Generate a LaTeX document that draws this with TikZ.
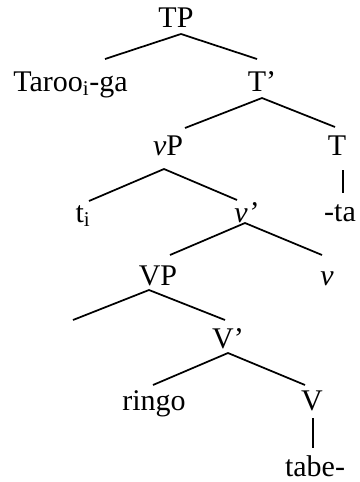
\documentclass[tikz,border=0pt]{standalone}
\usepackage{fontspec}
\setmainfont{Liberation Serif}
\begin{document}
\begin{tikzpicture}[x=0.75pt,y=-0.75pt,
  lab/.style={inner sep=0pt,anchor=base,font=\fontsize{22.5}{27}\selectfont},
  branch/.style={line width=1.3pt,line join=miter}]
\useasboundingbox (0,0) rectangle (360,482);
% labels
\node[lab] (TP) at (176,27) {TP};
\node[lab,anchor=base west] (taroo) at (13,91) {Taroo\textsubscript{i}-ga};
\node[lab] (Tbar) at (262,91) {T’};
\node[lab] (vP) at (168,155) {\textit{v}P};
\node[lab] (T) at (337,155) {T};
\node[lab] (ti) at (83,222) {t\textsubscript{i}};
\node[lab] (vbar) at (246,222) {\textit{v’}};
\node[lab] (ta) at (340,221) {-ta};
\node[lab] (VP) at (158,285) {VP};
\node[lab] (v) at (327,285) {\textit{v}};
\node[lab] (Vbar) at (228,348) {V’};
\node[lab] (ringo) at (154,410) {ringo};
\node[lab] (V) at (312,410) {V};
\node[lab] (tabe) at (315,476) {tabe-};
% branch points
\coordinate (tpA) at (181,34);  \coordinate (tpL) at (105,59);  \coordinate (tpR) at (257,59);
\coordinate (tbA) at (262,98);  \coordinate (tbL) at (185,128); \coordinate (tbR) at (335,127);
\coordinate (vpA) at (164,169); \coordinate (vpL) at (89,201);  \coordinate (vpR) at (237,200);
\coordinate (tT)  at (343,170); \coordinate (tB)  at (343,193);
\coordinate (vbA) at (245,223); \coordinate (vbL) at (170,255); \coordinate (vbR) at (322,255);
\coordinate (VPA) at (149,290); \coordinate (VPL) at (73,320);  \coordinate (VPR) at (225,320);
\coordinate (VbA) at (228,353); \coordinate (VbL) at (153,385); \coordinate (VbR) at (305,385);
\coordinate (VT)  at (313,418); \coordinate (VB)  at (313,448);
% branches
\draw[branch] (tpL) -- (tpA) -- (tpR);
\draw[branch] (tbL) -- (tbA) -- (tbR);
\draw[branch] (vpL) -- (vpA) -- (vpR);
\draw[branch] (tT) -- (tB);
\draw[branch] (vbL) -- (vbA) -- (vbR);
\draw[branch] (VPL) -- (VPA) -- (VPR);
\draw[branch] (VbL) -- (VbA) -- (VbR);
\draw[branch] (VT) -- (VB);
\end{tikzpicture}
\end{document}
